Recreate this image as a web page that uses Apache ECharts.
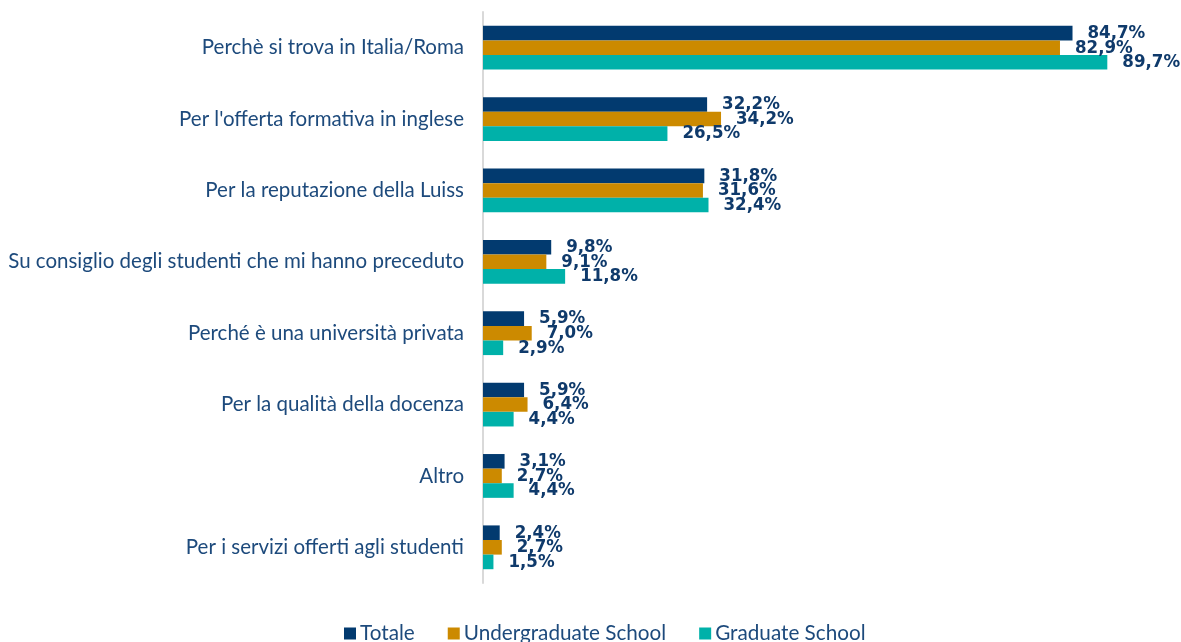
<!DOCTYPE html>
<html>
<head>
<meta charset="utf-8">
<script src="https://cdn.jsdelivr.net/npm/echarts@6/dist/echarts.min.js"></script>
<style>
  html, body { margin: 0; padding: 0; background: #ffffff; }
  #chart { width: 1181px; height: 642px; }
</style>
</head>
<body>
<div id="chart"></div>
<script>
// Motivi della scelta (valori percentuali)
const categories = [
  "Perchè si trova in Italia/Roma",
  "Per l'offerta formativa in inglese",
  "Per la reputazione della Luiss",
  "Su consiglio degli studenti che mi hanno preceduto",
  "Perché è una università privata",
  "Per la qualità della docenza",
  "Altro",
  "Per i servizi offerti agli studenti"
];
const seriesNames = ["Totale", "Undergraduate School", "Graduate School"];
const totale = [84.7, 32.2, 31.8, 9.8, 5.9, 5.9, 3.1, 2.4];
const undergraduate = [82.9, 34.2, 31.6, 9.1, 7.0, 6.4, 2.7, 2.7];
const graduate = [89.7, 26.5, 32.4, 11.8, 2.9, 4.4, 4.4, 1.5];

const colors = ["#023a6f", "#cc8a00", "#00b1a9"];
const labelColor = "#0f3a6b";
const textColor = "#1d4a7c";

const chart = echarts.init(document.getElementById('chart'), null, { renderer: 'canvas' });

function makeSeries(name, data, color) {
  return {
    name: name,
    type: 'bar',
    data: data,
    barWidth: 14.6,
    barGap: '0%',
    itemStyle: { color: color },
    label: {
      show: true,
      position: 'right',
      distance: 15,
      color: labelColor,
      fontFamily: 'DejaVu Sans Condensed',
      fontWeight: 'bold',
      fontSize: 18.5,
      formatter: p => p.value.toFixed(1).replace('.', ',') + '%'
    }
  };
}

chart.setOption({
  animation: false,
  backgroundColor: '#ffffff',
  grid: { left: 483, right: 2, top: 12, height: 571, containLabel: false },
  legend: {
    data: seriesNames,
    left: 339,
    top: 618,
    icon: 'rect',
    itemWidth: 12,
    itemHeight: 12,
    itemGap: 33,
    textStyle: { color: textColor, fontFamily: 'Lato', fontSize: 20.7, padding: [0, 0, 0, -1] }
  },
  xAxis: {
    type: 'value',
    min: 0,
    max: 100,
    show: false,
    splitLine: { show: false }
  },
  yAxis: {
    type: 'category',
    data: categories,
    inverse: true,
    axisLine: { show: true, lineStyle: { color: '#d9d9d9', width: 2 } },
    axisTick: { show: false },
    axisLabel: {
      margin: 19,
      color: textColor,
      fontFamily: 'Lato',
      fontSize: 20.5
    }
  },
  series: [
    makeSeries(seriesNames[0], totale, colors[0]),
    makeSeries(seriesNames[1], undergraduate, colors[1]),
    makeSeries(seriesNames[2], graduate, colors[2])
  ]
});
</script>
</body>
</html>
